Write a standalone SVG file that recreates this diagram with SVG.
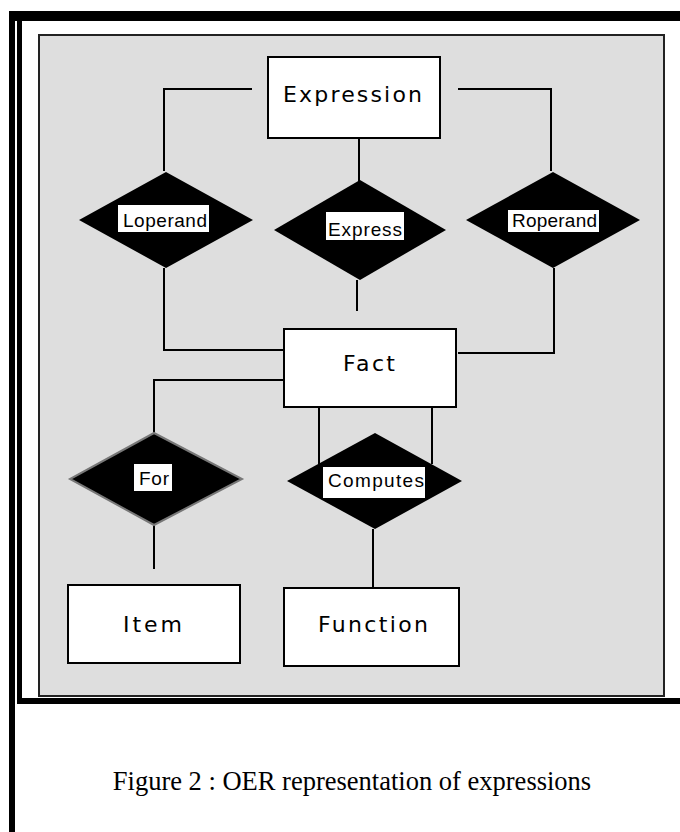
<svg xmlns="http://www.w3.org/2000/svg" width="680" height="832" viewBox="0 0 680 832">
<style>
.ent{fill:#fff;stroke:#000;stroke-width:2}
.rel{fill:#000}
.lbl{fill:#fff}
.et{font-family:"DejaVu Sans","Liberation Sans",sans-serif;font-size:22px;fill:#000;text-anchor:start}
.rt{font-family:"Liberation Sans",Arial,sans-serif;font-size:19px;fill:#000}
.cn{fill:none;stroke:#000;stroke-width:2}
</style>
<rect width="680" height="832" fill="#fff"/>
<g id="frame">
<rect x="9" y="11" width="671" height="10" fill="#000"/>
<rect x="9" y="11" width="6" height="821" fill="#000"/>
<rect x="17" y="21" width="5" height="683" fill="#000"/>
<rect x="17" y="698" width="663" height="6" fill="#000"/>
<rect x="39" y="35" width="625" height="661" fill="#dedede" stroke="#222" stroke-width="2"/>
</g>
<g id="connectors">
<path class="cn" d="M252,89 H164 V171"/>
<path class="cn" d="M458,89 H551 V171"/>
<path class="cn" d="M359,138 V182"/>
<path class="cn" d="M164,268 V350 H284"/>
<path class="cn" d="M357,280 V311"/>
<path class="cn" d="M554,268 V353 H458"/>
<path class="cn" d="M284,380 H154 V433"/>
<path class="cn" d="M319,407 V464"/>
<path class="cn" d="M432,407 V464"/>
<path class="cn" d="M373,529 V588"/>
<path class="cn" d="M154,525 V569"/>
</g>
<g id="Expression">
<rect class="ent" x="268" y="57" width="172" height="81"/>
<text class="et" x="283" y="102" textLength="139" lengthAdjust="spacing">Expression</text>
</g>
<g id="Loperand">
<polygon class="rel" points="166,172 253,220 166,268 79,220"/>
<rect class="lbl" x="118" y="205" width="91" height="27"/>
<text class="rt" x="123" y="227" textLength="84" lengthAdjust="spacing">Loperand</text>
</g>
<g id="Express">
<polygon class="rel" points="360,180 446,230 360,280 274,230"/>
<rect class="lbl" x="326" y="212" width="78" height="28"/>
<text class="rt" x="328" y="236" textLength="74" lengthAdjust="spacing">Express</text>
</g>
<g id="Roperand">
<polygon class="rel" points="553,172 640,220 553,268 466,220"/>
<rect class="lbl" x="508" y="210" width="91" height="22"/>
<text class="rt" x="512" y="227" textLength="85" lengthAdjust="spacing">Roperand</text>
</g>
<g id="Fact">
<rect class="ent" x="284" y="329" width="172" height="78"/>
<text class="et" x="343" y="371" textLength="52" lengthAdjust="spacing">Fact</text>
</g>
<g id="For">
<polygon class="rel" points="154,433 242,479 154,525 70,479" stroke="#777" stroke-width="2"/>
<rect class="lbl" x="134" y="464" width="38" height="27"/>
<text class="rt" x="139" y="485" textLength="30" lengthAdjust="spacing">For</text>
</g>
<g id="Computes">
<polygon class="rel" points="375,433 462,481 375,529 287,481"/>
<rect class="lbl" x="323" y="467" width="102" height="31"/>
<text class="rt" x="328" y="487" textLength="96" lengthAdjust="spacing">Computes</text>
</g>
<g id="Item">
<rect class="ent" x="68" y="585" width="172" height="78"/>
<text class="et" x="123" y="632" textLength="59" lengthAdjust="spacing">Item</text>
</g>
<g id="Function">
<rect class="ent" x="284" y="588" width="175" height="78"/>
<text class="et" x="318" y="632" textLength="110" lengthAdjust="spacing">Function</text>
</g>
<g id="caption">
<text x="352" y="790" text-anchor="middle" font-family="Liberation Serif,'Times New Roman',serif" font-size="26.5px" fill="#000">Figure 2 : OER representation of expressions</text>
</g>
</svg>
